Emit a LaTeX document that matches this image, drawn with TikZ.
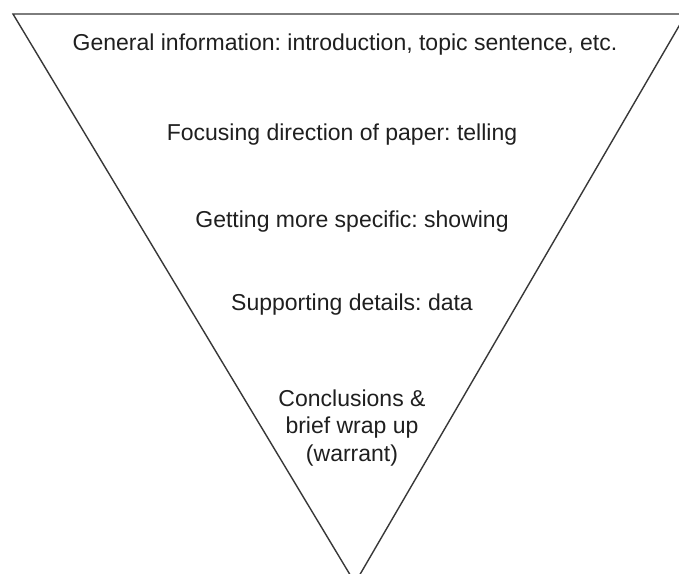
\documentclass[tikz,border=0pt]{standalone}
\usepackage{fontspec}
\setmainfont{Liberation Sans}
\frenchspacing
\tikzset{
  lbl/.style={font=\fontsize{23}{27.5}\selectfont, text=black!88, align=center, inner sep=0pt},
  edge/.style={draw=black!78, line width=1.4pt, line join=miter}
}
\begin{document}
\begin{tikzpicture}[x=1pt,y=-1pt]
\useasboundingbox (0,0) rectangle (679,573);
\fill[white] (0,0) rectangle (679,573);
\coordinate (tl) at (13,14);
\coordinate (tr) at (686,14);
\coordinate (ap) at (355,583);
\begin{scope}
\clip (0,0) rectangle (679,573);
\draw[edge] (tl) -- (tr) -- (ap) -- cycle;
\end{scope}
\node[lbl] (l1) at (345,45) {General information: introduction, topic sentence, etc.};
\node[lbl] (l2) at (342,135) {Focusing direction of paper: telling};
\node[lbl] (l3) at (352,222) {Getting more specific: showing};
\node[lbl] (l4) at (352,305) {Supporting details: data};
\node[lbl] (l5) at (352,428) {Conclusions \&\\brief wrap up\\(warrant)};
\end{tikzpicture}
\end{document}
